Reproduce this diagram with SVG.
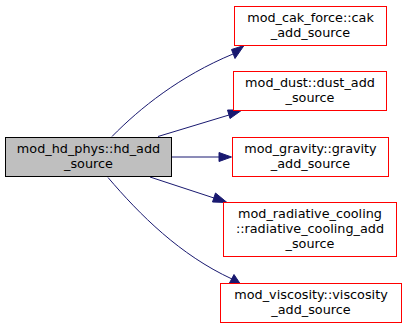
<svg xmlns="http://www.w3.org/2000/svg" width="407" height="329" viewBox="0 0 407 329">
  <style>
    .node text { font-family: "DejaVu Sans", sans-serif; font-size: 12.8px; text-anchor: middle; fill: #000; }
    .main rect { fill: #bfbfbf; stroke: #000; stroke-width: 1; }
    .callee rect { fill: #fff; stroke: #ff0000; stroke-width: 1; }
    .edge path { fill: none; stroke: #191970; stroke-width: 1; }
    .edge polygon { fill: #191970; stroke: #191970; stroke-width: 1; }
  </style>
  <rect width="407" height="329" fill="#fff"/>

  <g id="edges">
    <g class="edge" id="e_cak">
      <path d="M112,136.5 C140,108 180,76 233,54"/>
      <polygon points="231.5,49.5 244,45.5 235,58.5"/>
    </g>
    <g class="edge" id="e_dust">
      <path d="M158,136.5 L229,115"/>
      <polygon points="227.5,110 242,110 230,118.5"/>
    </g>
    <g class="edge" id="e_gravity">
      <path d="M172,157 L219,157"/>
      <polygon points="219,152.5 231.5,157 219,161.5"/>
    </g>
    <g class="edge" id="e_radiative">
      <path d="M150,177 L214,198"/>
      <polygon points="215.5,193 227,202.5 212.5,202"/>
    </g>
    <g class="edge" id="e_viscosity">
      <path d="M108,177.5 C140,215 180,255 232,279"/>
      <polygon points="234,274.5 241,285 229.5,283"/>
    </g>
  </g>

  <g class="node main" id="hd_add_source">
    <rect x="5.5" y="137.5" width="166" height="39"/>
    <text x="88.5" y="153">mod_hd_phys::hd_add</text>
    <text x="88.5" y="168">_source</text>
  </g>

  <g class="node callee" id="cak_add_source">
    <rect x="234.5" y="6.5" width="152" height="39"/>
    <text x="310.5" y="22">mod_cak_force::cak</text>
    <text x="310.5" y="37">_add_source</text>
  </g>

  <g class="node callee" id="dust_add_source">
    <rect x="233.5" y="71.5" width="153" height="39"/>
    <text x="310" y="87">mod_dust::dust_add</text>
    <text x="310" y="102">_source</text>
  </g>

  <g class="node callee" id="gravity_add_source">
    <rect x="232.5" y="137.5" width="156" height="39"/>
    <text x="310.5" y="153">mod_gravity::gravity</text>
    <text x="310.5" y="168">_add_source</text>
  </g>

  <g class="node callee" id="radiative_cooling_add_source">
    <rect x="223.5" y="202.5" width="173" height="54"/>
    <text x="310" y="218">mod_radiative_cooling</text>
    <text x="310" y="233">::radiative_cooling_add</text>
    <text x="310" y="248">_source</text>
  </g>

  <g class="node callee" id="viscosity_add_source">
    <rect x="220.5" y="283.5" width="181" height="39"/>
    <text x="311" y="299">mod_viscosity::viscosity</text>
    <text x="311" y="314">_add_source</text>
  </g>
</svg>
